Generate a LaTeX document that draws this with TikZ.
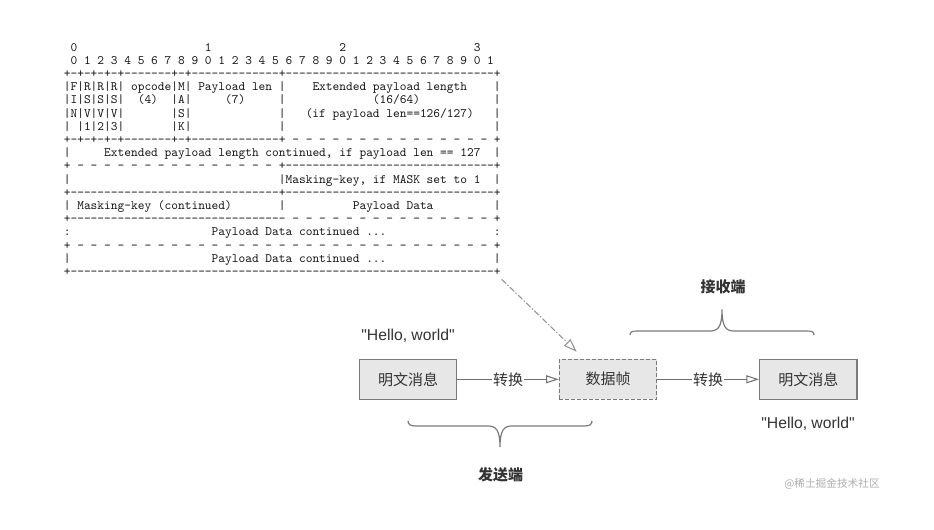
\documentclass[tikz,border=0pt]{standalone}
\usepackage{fontspec}
\setmainfont{Liberation Sans}
\newfontfamily\cjk{Noto Sans CJK SC}
\usepackage{tikz}
\usetikzlibrary{arrows.meta}
\definecolor{boxfill}{HTML}{E7E7E7}
\definecolor{boxgrey}{HTML}{7A7A7A}
\definecolor{linegrey}{HTML}{707070}
\definecolor{textdark}{HTML}{333333}
\definecolor{pointgrey}{HTML}{939393}
\definecolor{markgrey}{HTML}{ADADAD}
\def\blanks#1{\kern#1\fontcharwd\font`0\relax}
\def\dashes#1{\foreach\k in {1,...,#1}{\hbox{-}}}
\def\dgaps#1{\foreach\k in {1,...,#1}{~\hbox{-}}}
\def\dq{\XeTeXglyph\XeTeXcharglyph"22\relax}
\tikzset{
	frameline/.style={anchor=base west, inner sep=0, text=black!92,
		font=\ttfamily\fontsize{9.6}{10}\selectfont},
	msgbox/.style={draw=boxgrey, fill=boxfill, line width=1pt, inner sep=0,
		minimum width=73pt, minimum height=30pt, text=textdark,
		font=\cjk\fontsize{11.25}{13}\selectfont},
	databox/.style={msgbox, dash pattern=on 3pt off 1.5pt},
	conn/.style={draw=linegrey, line width=0.8pt,
		-{Triangle[open, length=9.5pt, width=6pt]}},
	convlabel/.style={fill=white, inner sep=1pt, text=textdark,
		font=\cjk\fontsize{11.25}{13}\selectfont},
	hellotext/.style={text=textdark, font=\fontsize{11.8}{13}\selectfont},
	sidelabel/.style={text=textdark, font=\cjk\bfseries\fontsize{11.25}{13}\selectfont},
	bracepen/.style={draw=boxgrey, line width=0.9pt},
	pointer/.style={draw=pointgrey, line width=0.8pt,
		dash pattern=on 4.5pt off 1.5pt on 1pt off 1.5pt,
		-{Triangle[open, length=10pt, width=7pt]}}
}

\begin{document}
\begin{tikzpicture}[x=0.75pt, y=-0.75pt]
			%%%%% START %%%%%
			\useasboundingbox (0,0) rectangle (934,529);
			
			% frame layout
			\node[frameline] (r1) at (63.6,51.0) {~0\blanks{19}1\blanks{19}2\blanks{19}3};
			\node[frameline] (r2) at (63.6,64.2) {~0~1~2~3~4~5~6~7~8~9~0~1~2~3~4~5~6~7~8~9~0~1~2~3~4~5~6~7~8~9~0~1};
			\node[frameline] (r3) at (63.6,77.4) {+-+-+-+-+\dashes{7}+-+\dashes{13}+\dashes{31}+};
			\node[frameline] (r4) at (63.6,90.6) {|F|R|R|R|~opcode|M|~Payload~len~|\blanks{4}Extended~payload~length\blanks{4}|};
			\node[frameline] (r5) at (63.6,103.8) {|I|S|S|S|\blanks{2}(4)\blanks{2}|A|\blanks{5}(7)\blanks{5}|\blanks{13}(16/64)\blanks{11}|};
			\node[frameline] (r6) at (63.6,117.0) {|N|V|V|V|\blanks{7}|S|\blanks{13}|\blanks{3}(if~payload~len==126/127)\blanks{3}|};
			\node[frameline] (r7) at (63.6,130.2) {|~|1|2|3|\blanks{7}|K|\blanks{13}|\blanks{31}|};
			\node[frameline] (r8) at (63.6,143.4) {+-+-+-+-+\dashes{7}+-+\dashes{13}+\dgaps{15}~+};
			\node[frameline] (r9) at (63.6,156.6) {|\blanks{5}Extended~payload~length~continued,~if~payload~len~==~127\blanks{2}|};
			\node[frameline] (r10) at (63.6,169.8) {+\dgaps{15}~+\dashes{31}+};
			\node[frameline] (r11) at (63.6,183.0) {|\blanks{31}|Masking-key,~if~MASK~set~to~1\blanks{2}|};
			\node[frameline] (r12) at (63.6,196.2) {+\dashes{31}+\dashes{31}+};
			\node[frameline] (r13) at (63.6,209.4) {|~Masking-key~(continued)\blanks{7}|\blanks{10}Payload~Data\blanks{9}|};
			\node[frameline] (r14) at (63.6,222.6) {+\dashes{32}\dgaps{15}~+};
			\node[frameline] (r15) at (63.6,235.8) {:\blanks{21}Payload~Data~continued~...\blanks{16}:};
			\node[frameline] (r16) at (63.6,249.0) {+\dgaps{31}~+};
			\node[frameline] (r17) at (63.6,262.2) {|\blanks{21}Payload~Data~continued~...\blanks{16}|};
			\node[frameline] (r18) at (63.6,275.4) {+\dashes{63}+};
			
			% sender -> frame -> receiver
			\node[msgbox] (msgA) at (408,379.3) {明文消息};
			\node[databox] (frameBox) at (608,379.3) {数据帧};
			\node[msgbox] (msgB) at (808.3,379.3) {明文消息};
			
			\draw[conn] (msgA) -- node[convlabel] (convA) {转换} (frameBox);
			\draw[conn] (frameBox) -- node[convlabel] (convB) {转换} (msgB);
			
			\node[hellotext] (helloA) at (408,336) {\dq Hello, world\dq};
			\node[hellotext] (helloB) at (808,423.5) {\dq Hello, world\dq};
			
			\coordinate (frameEnd) at (501.7,279.3);
			\coordinate (frameTip) at (576.7,351.7);
			\draw[pointer] (frameEnd) -- (frameTip);
			
			% braces
			\draw[bracepen] (408,421) .. controls (408,424.5) and (410.5,426) .. (416,426) -- (488,426)
				.. controls (496,426) and (500,430) .. (500,447)
				.. controls (500,430) and (504,426) .. (512,426) -- (584,426)
				.. controls (589.5,426) and (592,424.5) .. (592,421);
			\draw[bracepen] (630,335) .. controls (630,331.5) and (632.5,331) .. (638,331) -- (710,331)
				.. controls (718,331) and (722,327) .. (722,309.5)
				.. controls (722,327) and (726,331) .. (734,331) -- (806,331)
				.. controls (811.5,331) and (814,331.5) .. (814,335);
			
			\node[sidelabel] (sendLbl) at (500.5,475) {发送端};
			\node[sidelabel] (recvLbl) at (723,287) {接收端};
			
			\node[text=markgrey, font=\cjk\fontsize{8}{10}\selectfont] (mark) at (832,483.5) {@稀土掘金技术社区};
			
			%%%%% END %%%%%
		\end{tikzpicture}
\end{document}
